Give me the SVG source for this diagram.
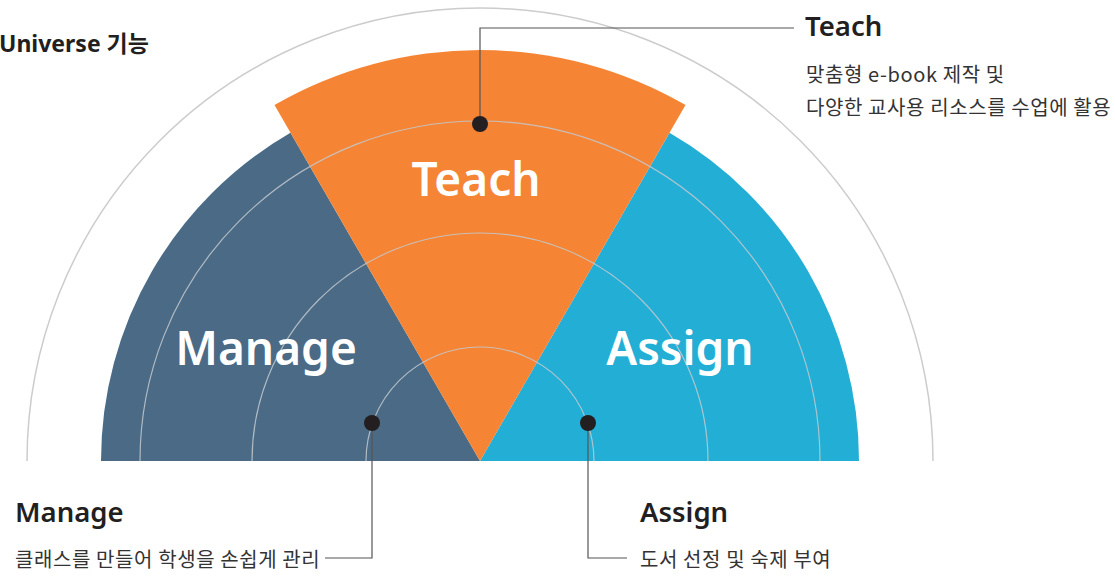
<svg xmlns="http://www.w3.org/2000/svg" width="1115" height="576" viewBox="0 0 1115 576">
<style>
.big{font-family:"Noto Sans","Noto Sans CJK KR",sans-serif;font-weight:600;font-size:46px;fill:#ffffff}
.head{font-family:"Noto Sans","Noto Sans CJK KR",sans-serif;font-weight:600;font-size:27.5px;fill:#231f20}
.desc{font-family:"Noto Sans CJK KR","Noto Sans",sans-serif;font-weight:400;font-size:20px;letter-spacing:0.6px;fill:#333333}
.ring{fill:none;stroke:#c3c9cf;stroke-width:1.2;stroke-opacity:0.85}
.conn{fill:none;stroke:#555555;stroke-width:1.2}
.dot{fill:#231f20}
</style>
<rect width="1115" height="576" fill="#ffffff"/>
<text x="-1" y="52" style="font-family:'Noto Sans','Noto Sans CJK KR',sans-serif;font-weight:700;font-size:23px;fill:#231f20">Universe 기능</text>
<path d="M27 461 A453 453 0 0 1 933 461" fill="none" stroke="#cccccc" stroke-width="1.5"/>
<g id="manage">
<path d="M480 461 L101 461 A379 379 0 0 1 290.5 132.8 Z" fill="#4a6a85"/>
</g>
<g id="assign">
<path d="M480 461 L669.5 132.8 A379 379 0 0 1 859 461 Z" fill="#23aed5"/>
</g>
<g id="teach">
<path d="M480 461 L274.5 105.1 A411 411 0 0 1 685.5 105.1 Z" fill="#f58434"/>
</g>
<g id="rings">
<path class="ring" d="M366 461 A114 114 0 0 1 594 461"/>
<path class="ring" d="M252 461 A228 228 0 0 1 708 461"/>
<path class="ring" d="M140 461 A340 340 0 0 1 820 461"/>
</g>
<g id="labels">
<text class="big" x="476" y="196" text-anchor="middle">Teach</text>
<text class="big" x="266" y="365" text-anchor="middle">Manage</text>
<text class="big" x="680" y="365" text-anchor="middle">Assign</text>
</g>
<g id="connectors">
<polyline class="conn" points="480,124 480,28 794,28"/>
<polyline class="conn" points="372,423 372,558 325,558"/>
<polyline class="conn" points="588,423 588,558 627,558"/>
<circle class="dot" cx="480" cy="124" r="8"/>
<circle class="dot" cx="372" cy="423" r="8"/>
<circle class="dot" cx="588" cy="423" r="8"/>
</g>
<g id="teach-text">
<text class="head" x="805" y="36">Teach</text>
<text class="desc" x="806" y="82">맞춤형 e-book 제작 및</text>
<text class="desc" x="806" y="115">다양한 교사용 리소스를 수업에 활용</text>
</g>
<g id="manage-text">
<text class="head" x="15" y="522">Manage</text>
<text class="desc" x="15" y="567">클래스를 만들어 학생을 손쉽게 관리</text>
</g>
<g id="assign-text">
<text class="head" x="640" y="522">Assign</text>
<text class="desc" x="640" y="567">도서 선정 및 숙제 부여</text>
</g>
</svg>
